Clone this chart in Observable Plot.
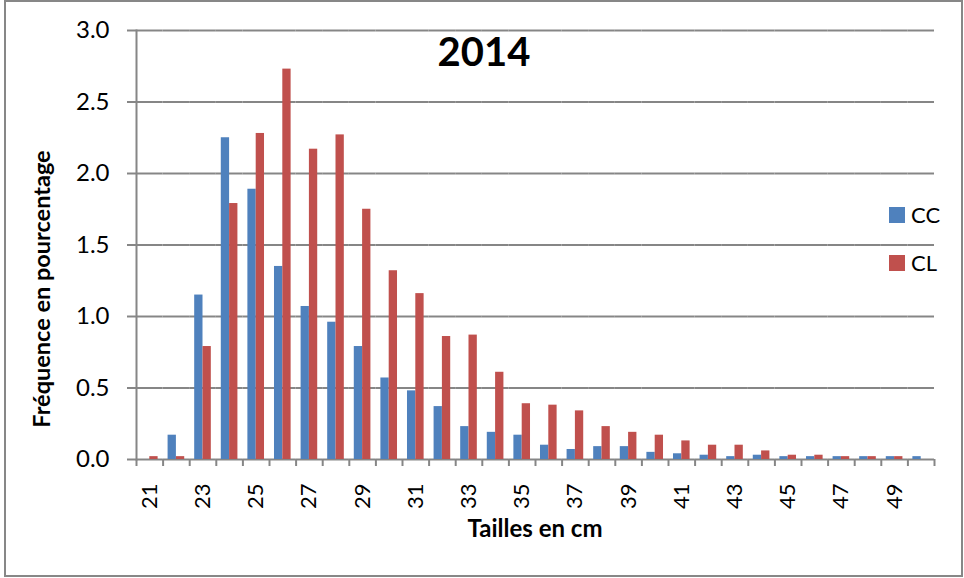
<!DOCTYPE html>
<html>
<head>
<meta charset="utf-8">
<script src="https://cdn.jsdelivr.net/npm/d3@7"></script>
<script src="https://cdn.jsdelivr.net/npm/@observablehq/plot@0.6"></script>
<style>
  html, body { margin: 0; padding: 0; background: #fff; }
  #wrap { position: relative; width: 964px; height: 578px; overflow: hidden; font-family: Lato, "Open Sans", sans-serif; }
  #border { position: absolute; left: 4px; top: 0px; width: 959px; height: 577px; box-sizing: border-box; border: 2px solid #878787; pointer-events: none; }
  #overlay { position: absolute; left: 0; top: 0; pointer-events: none; }
  #chart svg { display: block; }
</style>
</head>
<body>
<div id="wrap">
  <div id="chart"></div>
  <svg id="overlay" width="964" height="578" font-family="Lato, 'Open Sans', sans-serif">
    <text x="535" y="66" text-anchor="middle" font-size="40" font-weight="bold" fill="#000" transform="translate(-51,0)">2014</text>
    <text x="535" y="537" text-anchor="middle" font-size="24" font-weight="bold" fill="#000">Tailles en cm</text>
    <text transform="translate(50,289) rotate(-90)" text-anchor="middle" font-size="23.5" font-weight="bold" fill="#000">Fréquence en pourcentage</text>
    <g id="legend"></g>
  </svg>
  <div id="border"></div>
</div>
<script>
// ---- data ----
const sizes = ["21","22","23","24","25","26","27","28","29","30","31","32","33","34","35","36","37","38","39","40","41","42","43","44","45","46","47","48","49","50"];
const seriesNames = ["CC", "CL"];
const ccValues = [0, 0.17, 1.15, 2.25, 1.89, 1.35, 1.07, 0.96, 0.79, 0.57, 0.48, 0.37, 0.23, 0.19, 0.17, 0.10, 0.07, 0.09, 0.09, 0.05, 0.04, 0.03, 0.02, 0.03, 0.02, 0.02, 0.02, 0.02, 0.02, 0.02];
const clValues = [0.02, 0.02, 0.79, 1.79, 2.28, 2.73, 2.17, 2.27, 1.75, 1.32, 1.16, 0.86, 0.87, 0.61, 0.39, 0.38, 0.34, 0.23, 0.19, 0.17, 0.13, 0.10, 0.10, 0.06, 0.03, 0.03, 0.02, 0.02, 0.02, 0];
const yTicks = [0, 0.5, 1.0, 1.5, 2.0, 2.5, 3.0];
const xTickLabels = ["21","23","25","27","29","31","33","35","37","39","41","43","45","47","49"];
const seriesColors = ["#4F81BD", "#C0504D"];

// ---- table ----
const table = sizes.flatMap((s, i) => [
  {size: s, serie: seriesNames[0], value: ccValues[i]},
  {size: s, serie: seriesNames[1], value: clValues[i]}
]);

const W = 964, H = 578, mL = 136, mR = 30, mT = 30, mB = 119;
const step = (W - mL - mR) / sizes.length;
const grey = "#868686";

const chart = Plot.plot({
  width: W, height: H,
  marginLeft: mL, marginRight: mR, marginTop: mT, marginBottom: mB,
  style: {fontFamily: "Lato, 'Open Sans', sans-serif", fontSize: "23px", color: "#000", background: "transparent", overflow: "visible"},
  fx: {domain: sizes, padding: 0, round: false, axis: null, label: null},
  x: {domain: seriesNames, paddingInner: 0, paddingOuter: 0.6, round: false, axis: null},
  y: {domain: [0, 3], axis: null},
  color: {domain: seriesNames, range: seriesColors},
  marks: [
    Plot.gridY(yTicks, {stroke: grey, strokeOpacity: 1, strokeWidth: 2}),
    Plot.barY(table, {fx: "size", x: "serie", y: "value", fill: "serie"}),
    Plot.frame({anchor: "left", facetAnchor: "left", stroke: grey, strokeWidth: 2}),
    Plot.axisY(yTicks, {tickSize: 9, tickPadding: 18, stroke: grey, strokeWidth: 2, fill: "#000", fontSize: 24, tickFormat: d => d.toFixed(1), label: null}),
    // tick marks at category boundaries
    Plot.axisFx({anchor: "bottom", tickSize: 7, dx: -step / 2, stroke: grey, strokeWidth: 2, tickFormat: () => "", label: null}),
    Plot.axisFx({anchor: "bottom", ticks: [sizes[sizes.length - 1]], tickSize: 7, dx: step / 2, stroke: grey, strokeWidth: 2, tickFormat: () => "", label: null}),
    // rotated labels, every other category
    Plot.axisFx({anchor: "bottom", ticks: xTickLabels, tickSize: 0, tickPadding: 24, tickRotate: -90, fill: "#000", fontSize: 22, label: null})
  ]
});
document.getElementById("chart").appendChild(chart);

// ---- legend ----
const legend = d3.select("#legend");
const legendTop = [207, 255];
seriesNames.forEach((name, i) => {
  legend.append("rect").attr("x", 889).attr("y", legendTop[i]).attr("width", 16).attr("height", 16).attr("fill", seriesColors[i]);
  legend.append("text").attr("x", 911).attr("y", legendTop[i] + 16).attr("font-size", 22).attr("fill", "#000").text(name);
});
</script>
</body>
</html>
